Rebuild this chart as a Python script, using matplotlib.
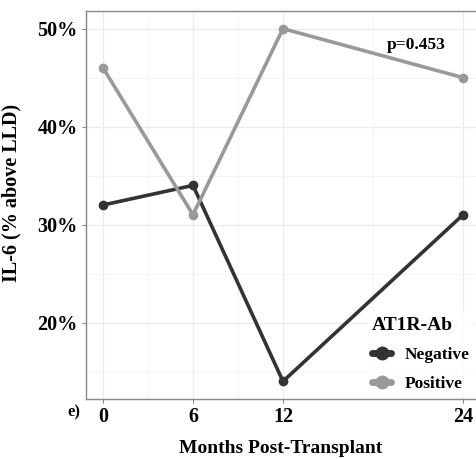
import matplotlib.pyplot as plt
from matplotlib.ticker import FixedLocator, FuncFormatter

plt.rcParams['font.family'] = ['Liberation Serif', 'DejaVu Serif']

# data
months = [0, 6, 12, 24]
negative = [32, 34, 14, 31]
positive = [46, 31, 50, 45]
groups = ['Negative', 'Positive']
colors = ['#333333', '#999999']

fig = plt.figure(figsize=(4.76, 4.59), dpi=100)
ax = fig.add_axes([86 / 476, 60 / 459, 390 / 476, 388 / 459])

for vals, name, col in zip([negative, positive], groups, colors):
    ax.plot(months, vals, color=col, lw=2.6, marker='o', ms=6, label=name,
            solid_capstyle='round')

ax.set_xlim(-17 / 15, 373 / 15)
ax.set_ylim(12.2, 51.8)

ax.xaxis.set_major_locator(FixedLocator(months))
ax.xaxis.set_minor_locator(FixedLocator([3, 9, 18]))
ax.yaxis.set_major_locator(FixedLocator([20, 30, 40, 50]))
ax.yaxis.set_minor_locator(FixedLocator([15, 25, 35, 45]))
ax.yaxis.set_major_formatter(FuncFormatter(lambda v, p: '%d%%' % v))

ax.grid(which='major', color='#ebebeb', lw=0.9)
ax.grid(which='minor', color='#f4f4f4', lw=0.6)
ax.set_axisbelow(True)

for s in ['left', 'bottom', 'top']:
    ax.spines[s].set_color('#888888')
    ax.spines[s].set_linewidth(1.0)
ax.spines['right'].set_visible(False)

ax.tick_params(which='major', length=3, color='#888888', labelsize=14.5, pad=3)
ax.tick_params(which='minor', length=0)
for lab in ax.get_xticklabels() + ax.get_yticklabels():
    lab.set_fontweight('bold')

ax.set_xlabel('Months Post-Transplant', fontsize=14, fontweight='bold', labelpad=9)
ax.set_ylabel('IL-6 (% above LLD)', fontsize=14.5, fontweight='bold')
ax.yaxis.set_label_coords(-0.165, 0.53)

ax.text(20.9, 47.9, 'p=0.453', fontsize=12.5, fontweight='bold', ha='center')
fig.text(67 / 476, 1 - 412 / 459, 'e)', fontsize=12, fontweight='bold', va='center')

leg = ax.legend(title='AT1R-Ab', loc='lower left', bbox_to_anchor=(0.72, 0.005),
                borderaxespad=0, frameon=True, fancybox=False, handlelength=1.1,
                handletextpad=0.8, labelspacing=0.75, borderpad=0.3,
                prop={'weight': 'bold', 'size': 12.5})
leg.get_frame().set_edgecolor('none')
leg.get_frame().set_facecolor('white')
leg.get_title().set_fontweight('bold')
leg.get_title().set_fontsize(14)
leg._legend_box.align = 'left'
for h in leg.legend_handles:
    h.set_linewidth(5)
    h.set_markersize(9)

fig.savefig('out.png', dpi=100)
